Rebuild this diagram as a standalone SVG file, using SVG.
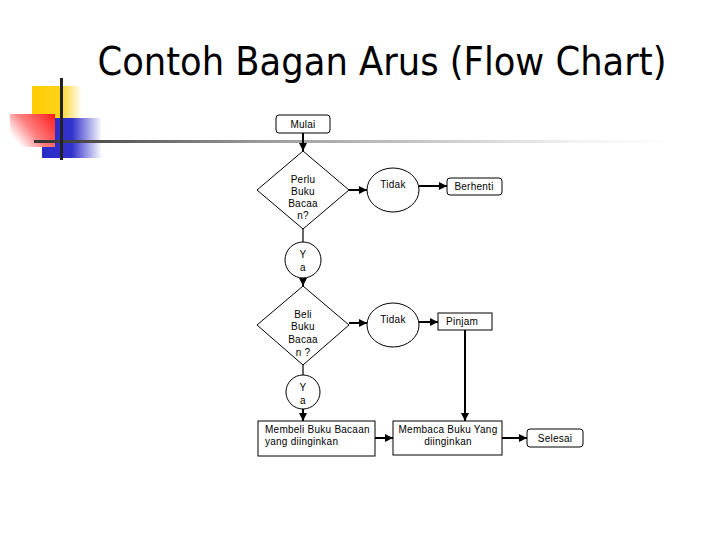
<svg xmlns="http://www.w3.org/2000/svg" width="720" height="540" viewBox="0 0 720 540">
<defs>
<linearGradient id="gy" x1="0" x2="1" y1="0" y2="0"><stop offset="0" stop-color="#ffcc00"/><stop offset="0.55" stop-color="#ffd21a"/><stop offset="1" stop-color="#ffffff"/></linearGradient>
<linearGradient id="gb" x1="0" x2="1" y1="0" y2="0"><stop offset="0" stop-color="#2a2ac8"/><stop offset="0.5" stop-color="#3333cc"/><stop offset="1" stop-color="#ffffff"/></linearGradient>
<linearGradient id="gr" x1="1" x2="0" y1="0" y2="0.6"><stop offset="0" stop-color="#ff1a1a"/><stop offset="0.6" stop-color="#ff8080"/><stop offset="1" stop-color="#ffffff"/></linearGradient>
<linearGradient id="gl" x1="0" x2="1" y1="0" y2="0"><stop offset="0" stop-color="#333333"/><stop offset="0.35" stop-color="#999999"/><stop offset="0.85" stop-color="#f2f2f2"/><stop offset="1" stop-color="#ffffff"/></linearGradient>
<marker id="ah" viewBox="0 0 10 10" refX="10" refY="5" markerWidth="4" markerHeight="4" orient="auto" markerUnits="strokeWidth"><path d="M0,0 L10,5 L0,10 z" fill="#000"/></marker>
</defs>
<style>
.t{font-family:"Liberation Sans",Arial,sans-serif;font-size:10px;fill:#000;letter-spacing:0.25px}
.s{fill:#fff;stroke:#000;stroke-width:1}
.c{fill:none;stroke:#000;stroke-width:2;marker-end:url(#ah)}
.l{fill:none;stroke:#000;stroke-width:1.2}
</style>
<g id="decor">
<rect x="32" y="86" width="50" height="34" fill="url(#gy)"/>
<rect x="42" y="118" width="60" height="40" fill="url(#gb)"/>
<rect x="10" y="114" width="45" height="33" fill="url(#gr)"/>
<rect x="34" y="140" width="640" height="3" fill="url(#gl)"/>
<rect x="60" y="78" width="3" height="82" fill="#222"/>
</g>
<text id="title" x="382" y="75" text-anchor="middle" font-family="'DejaVu Sans Condensed','DejaVu Sans',sans-serif" font-stretch="condensed" font-size="39.3" fill="#000">Contoh Bagan Arus (Flow Chart)</text>
<g id="connectors">
<line class="c" x1="303" y1="133" x2="303" y2="151"/>
<line class="c" x1="349" y1="190" x2="367" y2="190"/>
<line class="c" x1="419" y1="186" x2="447" y2="186"/>
<line class="l" x1="303" y1="229" x2="303" y2="242"/>
<line class="c" x1="303" y1="277" x2="303" y2="286"/>
<line class="c" x1="349" y1="323" x2="367" y2="323"/>
<line class="c" x1="419" y1="322" x2="438" y2="322"/>
<line class="c" x1="465" y1="330" x2="465" y2="421"/>
<line class="l" x1="303" y1="365" x2="303" y2="375"/>
<line class="c" x1="303" y1="409" x2="303" y2="421"/>
<line class="c" x1="375" y1="438" x2="393" y2="438"/>
<line class="c" x1="502" y1="438" x2="527" y2="438"/>
</g>
<g id="mulai">
<rect class="s" x="276" y="115" width="54" height="18" rx="3"/>
<text class="t" x="303" y="128" text-anchor="middle">Mulai</text>
</g>
<g id="perlu">
<polygon class="s" points="303,151 349,190 303,229 257,190"/>
<text class="t" x="303" y="183" text-anchor="middle">Perlu</text>
<text class="t" x="303" y="195" text-anchor="middle">Buku</text>
<text class="t" x="303" y="207" text-anchor="middle">Bacaa</text>
<text class="t" x="303" y="219" text-anchor="middle">n?</text>
</g>
<g id="tidak1">
<ellipse class="s" cx="393" cy="190" rx="26" ry="22"/>
<text class="t" x="393" y="188" text-anchor="middle">Tidak</text>
</g>
<g id="berhenti">
<rect class="s" x="447" y="178" width="55" height="17" rx="3"/>
<text class="t" x="474" y="190" text-anchor="middle">Berhenti</text>
</g>
<g id="ya1">
<circle class="s" cx="303" cy="260" r="18"/>
<text class="t" x="303" y="258" text-anchor="middle">Y</text>
<text class="t" x="303" y="271" text-anchor="middle">a</text>
</g>
<g id="beli">
<polygon class="s" points="303,286 349,325 303,365 257,325"/>
<text class="t" x="303" y="318" text-anchor="middle">Beli</text>
<text class="t" x="303" y="330" text-anchor="middle">Buku</text>
<text class="t" x="303" y="343" text-anchor="middle">Bacaa</text>
<text class="t" x="303" y="356" text-anchor="middle">n ?</text>
</g>
<g id="tidak2">
<ellipse class="s" cx="393" cy="325" rx="26" ry="22"/>
<text class="t" x="393" y="323" text-anchor="middle">Tidak</text>
</g>
<g id="pinjam">
<rect class="s" x="438" y="313" width="54" height="17"/>
<text class="t" x="446" y="325">Pinjam</text>
</g>
<g id="ya2">
<circle class="s" cx="303" cy="392" r="17"/>
<text class="t" x="303" y="391" text-anchor="middle">Y</text>
<text class="t" x="303" y="404" text-anchor="middle">a</text>
</g>
<g id="membeli">
<rect class="s" x="258" y="421" width="117" height="35"/>
<text class="t" x="265" y="433">Membeli Buku Bacaan</text>
<text class="t" x="265" y="445">yang diinginkan</text>
</g>
<g id="membaca">
<rect class="s" x="393" y="421" width="109" height="34"/>
<text class="t" x="448" y="433" text-anchor="middle">Membaca Buku Yang</text>
<text class="t" x="448" y="445" text-anchor="middle">diinginkan</text>
</g>
<g id="selesai">
<rect class="s" x="527" y="429" width="56" height="18" rx="3"/>
<text class="t" x="555" y="442" text-anchor="middle">Selesai</text>
</g>
</svg>
